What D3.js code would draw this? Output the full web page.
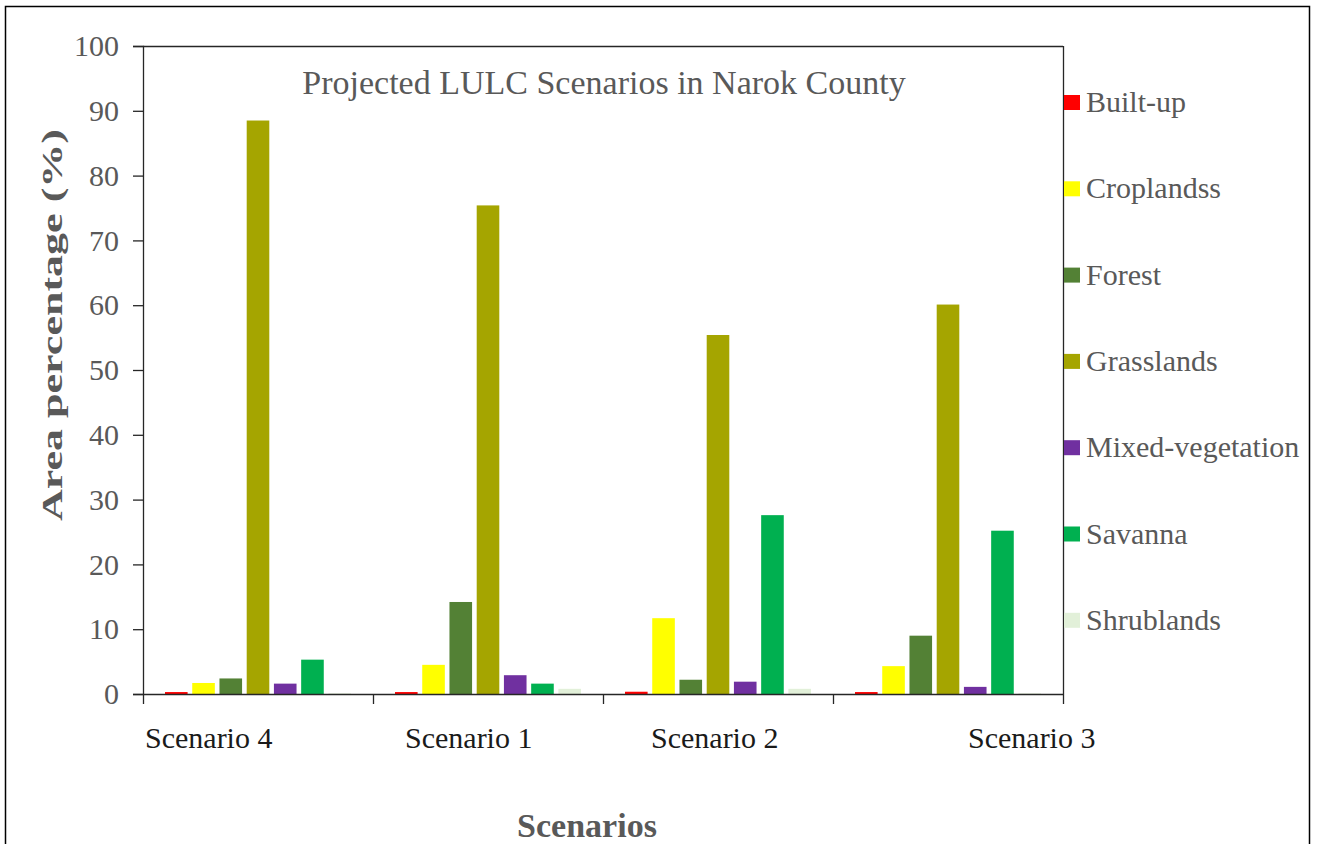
<!DOCTYPE html>
<html>
<head>
<meta charset="utf-8">
<script src="https://cdn.jsdelivr.net/npm/d3@7"></script>
<style>
  html, body { margin: 0; padding: 0; background: #fff; }
  svg { display: block; }
  text { font-family: "Liberation Serif", "Times New Roman", serif; }
</style>
</head>
<body>
<svg id="chart" width="1317" height="844"></svg>
<script>
// Scenario groups along the x axis
const scenarios = ["Scenario 4", "Scenario 1", "Scenario 2", "Scenario 3"];
// Land-cover classes (legend order)
const classes = ["Built-up", "Croplandss", "Forest", "Grasslands", "Mixed-vegetation", "Savanna", "Shrublands"];
const classColors = ["#ff0000", "#ffff00", "#538135", "#a5a500", "#7030a0", "#00b050", "#e2f0d9"];
// Area percentage per class, one array per scenario (same order as scenarios)
const builtUp      = [0.3, 0.3, 0.35, 0.3];
const croplands    = [1.7, 4.5, 11.7, 4.3];
const forest       = [2.4, 14.2, 2.2, 9.0];
const grasslands   = [88.5, 75.4, 55.4, 60.1];
const mixedVeg     = [1.6, 2.9, 1.9, 1.1];
const savanna      = [5.3, 1.6, 27.6, 25.2];
const shrublands   = [0.1, 0.8, 0.8, 0.1];
const yTicks = [0, 10, 20, 30, 40, 50, 60, 70, 80, 90, 100];

const seriesValues = [builtUp, croplands, forest, grasslands, mixedVeg, savanna, shrublands];

const svg = d3.select("#chart");
const textGray = "#595959";

// outer frame
svg.append("rect")
  .attr("x", 5.5).attr("y", 6.5)
  .attr("width", 1304).attr("height", 850)
  .attr("fill", "none").attr("stroke", "#000").attr("stroke-width", 1.5);

const plot = { left: 143, right: 1063, top: 46, bottom: 694 };

const y = d3.scaleLinear().domain([0, 100]).range([plot.bottom, plot.top]);
const x0 = d3.scaleBand().domain(scenarios).range([plot.left, plot.right]).padding(0);
const x1 = d3.scaleBand().domain(classes)
  .range([22, x0.bandwidth() - 22])
  .paddingInner(0.17).paddingOuter(0);
const color = d3.scaleOrdinal().domain(classes).range(classColors);

// top and right border of plot area
svg.append("line")
  .attr("x1", plot.left).attr("x2", plot.right)
  .attr("y1", plot.top + 0.5).attr("y2", plot.top + 0.5)
  .attr("stroke", "#262626").attr("stroke-width", 1.3);
svg.append("line")
  .attr("x1", plot.right + 0.5).attr("x2", plot.right + 0.5)
  .attr("y1", plot.top).attr("y2", plot.bottom)
  .attr("stroke", "#262626").attr("stroke-width", 1.3);

// bars
const rows = [];
scenarios.forEach((s, i) => {
  classes.forEach((c, j) => rows.push({ scenario: s, cls: c, value: seriesValues[j][i] }));
});
svg.append("g").selectAll("rect")
  .data(rows)
  .join("rect")
  .attr("x", d => x0(d.scenario) + x1(d.cls))
  .attr("y", d => y(d.value))
  .attr("width", x1.bandwidth())
  .attr("height", d => y(0) - y(d.value))
  .attr("fill", d => color(d.cls));

// y axis
const yAxis = svg.append("g")
  .attr("transform", `translate(${plot.left},0)`)
  .call(d3.axisLeft(y).tickValues(yTicks).tickSize(10).tickPadding(14));
yAxis.select(".domain").attr("stroke", "#262626").attr("stroke-width", 1.3);
yAxis.selectAll(".tick line").attr("stroke", "#262626").attr("stroke-width", 1.3);
yAxis.selectAll(".tick text")
  .attr("fill", textGray)
  .style("font-size", "30px")
  .style("font-family", "'Liberation Serif', serif");

// x axis with ticks at group boundaries
const xAxisG = svg.append("g").attr("transform", `translate(0,${plot.bottom})`);
xAxisG.append("line")
  .attr("x1", plot.left).attr("x2", plot.right)
  .attr("y1", 0.5).attr("y2", 0.5)
  .attr("stroke", "#262626").attr("stroke-width", 1.3);
const boundaries = scenarios.map(s => x0(s)).concat([plot.right]);
xAxisG.selectAll("line.tick")
  .data(boundaries)
  .join("line")
  .attr("class", "tick")
  .attr("x1", d => d + 0.5).attr("x2", d => d + 0.5)
  .attr("y1", 0).attr("y2", 10)
  .attr("stroke", "#262626").attr("stroke-width", 1.3);

// scenario labels (positioned within each group)
const labelOffsets = [2, 32, 48, 135];
svg.append("g").selectAll("text")
  .data(scenarios)
  .join("text")
  .attr("x", (d, i) => x0(d) + labelOffsets[i])
  .attr("y", 748)
  .attr("fill", "#1a1a1a")
  .style("font-size", "30px")
  .text(d => d);

// title
svg.append("text")
  .attr("x", 604).attr("y", 94)
  .attr("text-anchor", "middle")
  .attr("fill", textGray)
  .style("font-size", "34px")
  .text("Projected LULC Scenarios in Narok County");

// axis titles
svg.append("text")
  .attr("transform", "translate(62,325) rotate(-90)")
  .attr("text-anchor", "middle")
  .attr("fill", textGray)
  .attr("textLength", 392)
  .attr("lengthAdjust", "spacingAndGlyphs")
  .style("font-size", "29px")
  .style("font-weight", "bold")
  .text("Area percentage (%)");
svg.append("text")
  .attr("x", 587).attr("y", 837)
  .attr("text-anchor", "middle")
  .attr("fill", textGray)
  .style("font-size", "34px")
  .style("font-weight", "bold")
  .text("Scenarios");

// legend
const legend = svg.append("g").selectAll("g")
  .data(classes)
  .join("g")
  .attr("transform", (d, i) => `translate(${plot.right + 1},${102 + i * 86.3})`);
legend.append("rect")
  .attr("x", 0).attr("y", -7)
  .attr("width", 16).attr("height", 15)
  .attr("fill", d => color(d));
legend.append("text")
  .attr("x", 22).attr("y", 10)
  .attr("fill", textGray)
  .style("font-size", "30px")
  .text(d => d);
</script>
</body>
</html>
